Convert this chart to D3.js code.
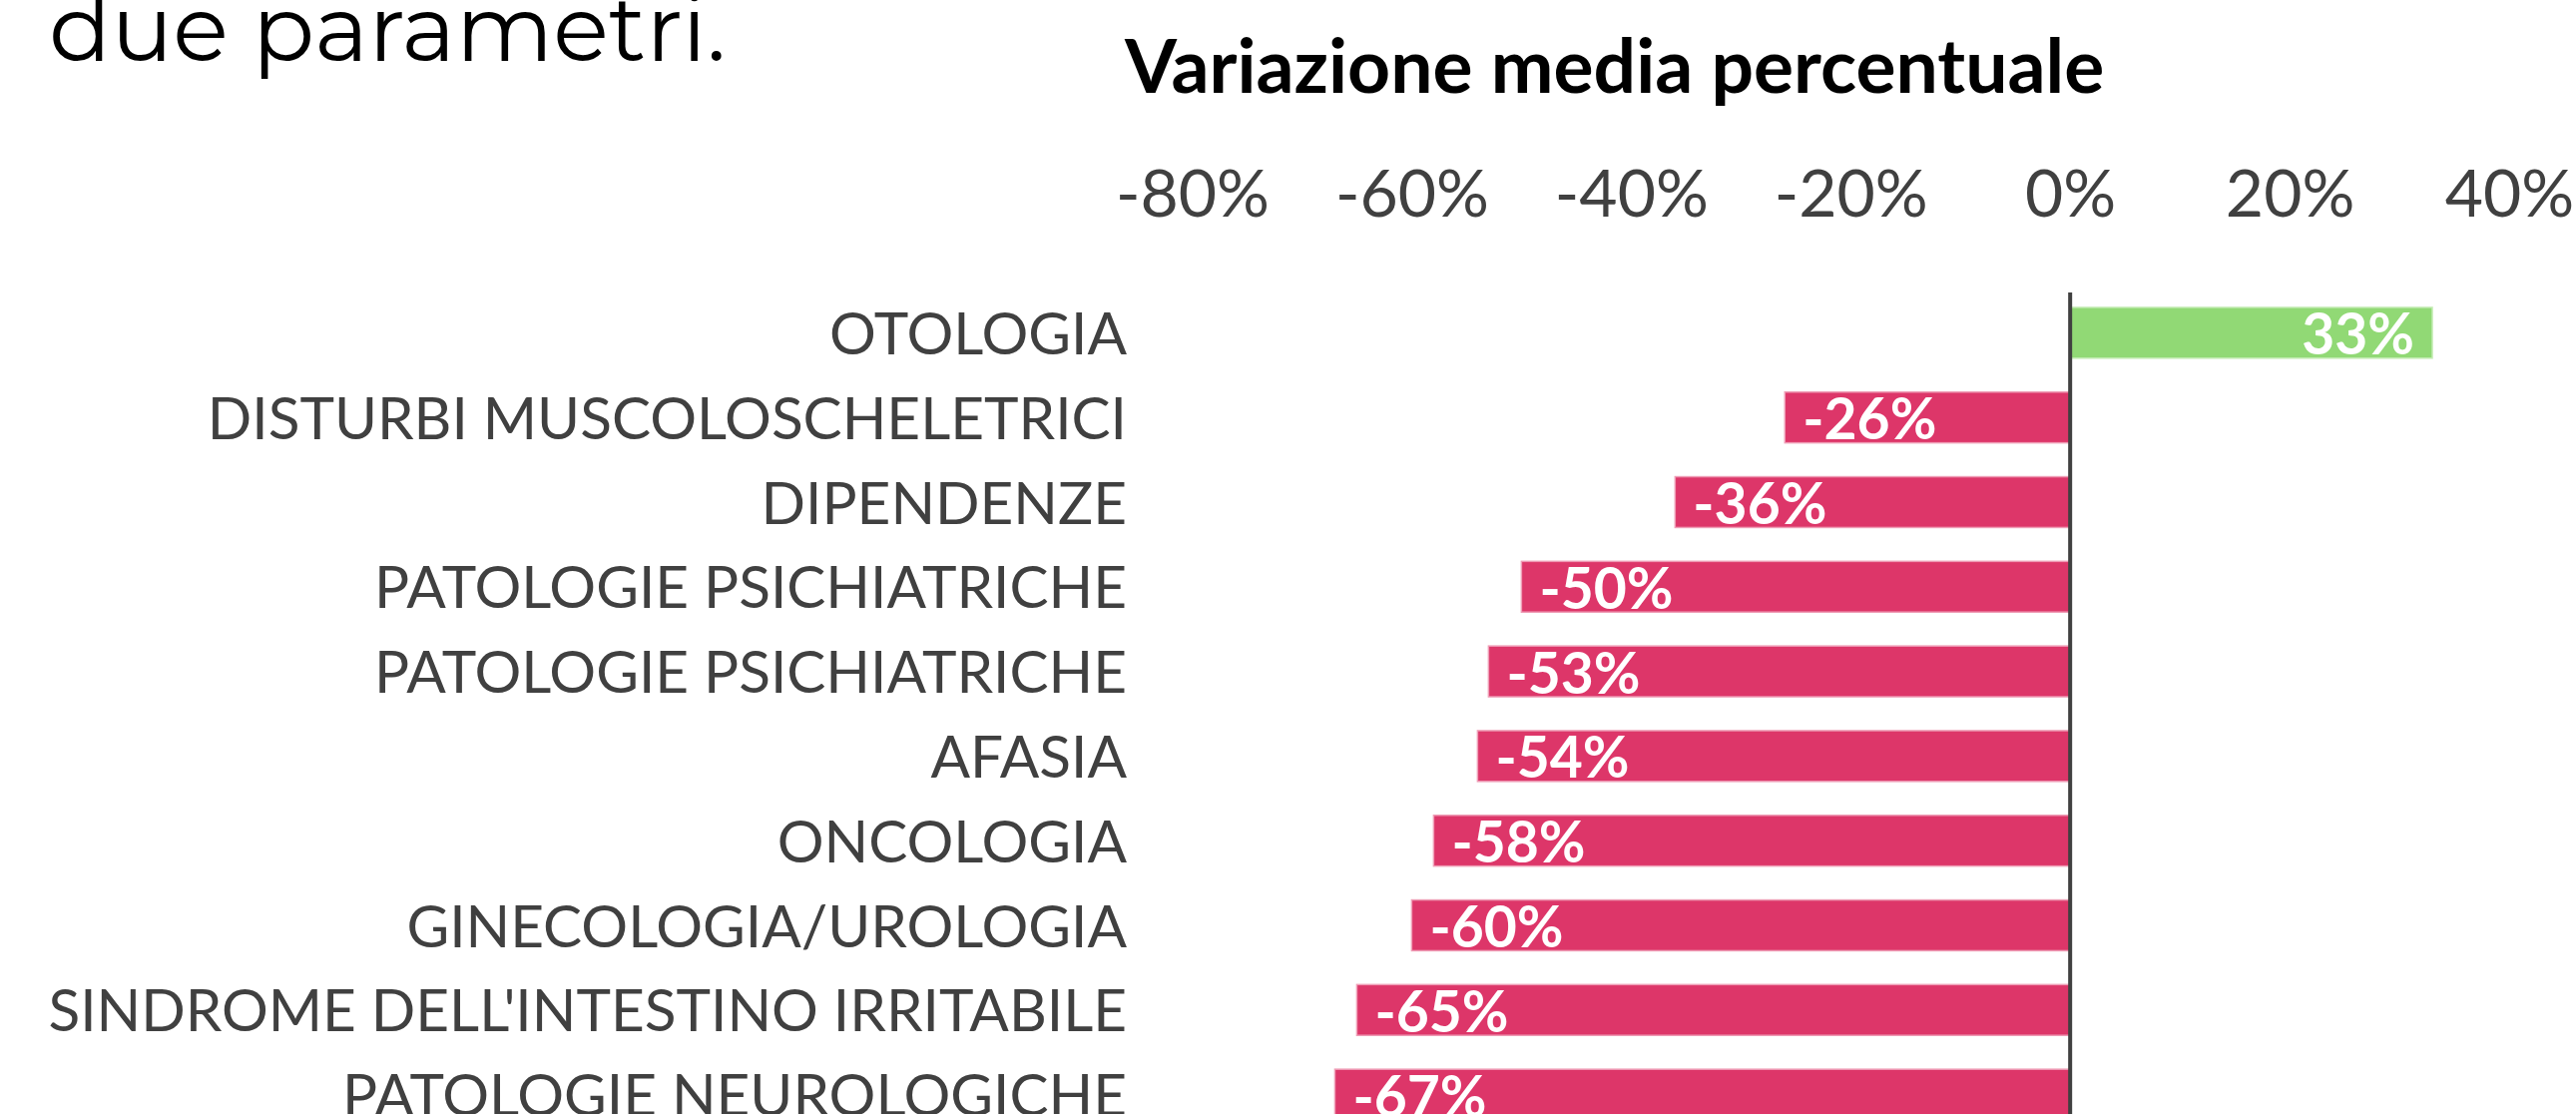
<!DOCTYPE html>
<html>
<head>
<meta charset="utf-8">
<script src="https://cdn.jsdelivr.net/npm/d3@7"></script>
<style>
  body { margin: 0; background: #ffffff; overflow: hidden; }
  svg { display: block; }
</style>
</head>
<body>
<svg id="visualisation"></svg>
<script>
// categories top to bottom and their mean percentage change
var categories = [
    'OTOLOGIA',
    'DISTURBI MUSCOLOSCHELETRICI',
    'DIPENDENZE',
    'PATOLOGIE PSICHIATRICHE',
    'PATOLOGIE PSICHIATRICHE ',
    'AFASIA',
    'ONCOLOGIA',
    'GINECOLOGIA/UROLOGIA',
    "SINDROME DELL'INTESTINO IRRITABILE",
    'PATOLOGIE NEUROLOGICHE'
];
var values = [33, -26, -36, -50, -53, -54, -58, -60, -65, -67];
var tickValues = [-80, -60, -40, -20, 0, 20, 40];
var axisTitle = 'Variazione media percentuale';
var introText = 'due parametri.';

var WIDTH = 2581,
    HEIGHT = 1116;

var vis = d3.select('#visualisation')
    .attr('width', WIDTH)
    .attr('height', HEIGHT);

vis.append('rect')
    .attr('width', WIDTH)
    .attr('height', HEIGHT)
    .attr('fill', '#ffffff');

var labelFont = "Lato, 'Open Sans', sans-serif";

var xRange = d3.scaleLinear()
    .domain([-80, 40])
    .range([1194.5, 2514]);

var yRange = d3.scaleBand()
    .domain(categories)
    .range([291, 1139])
    .paddingInner(0.4)
    .paddingOuter(0.2);

// leftover text of the slide above the chart
vis.append('text')
    .attr('x', 49)
    .attr('y', 61)
    .attr('font-family', "Montserrat, Lato, sans-serif")
    .attr('font-size', 92)
    .attr('font-weight', 400)
    .attr('fill', '#000000')
    .text(introText);

vis.append('text')
    .attr('x', 1127)
    .attr('y', 93)
    .attr('font-family', labelFont)
    .attr('font-size', 75)
    .attr('font-weight', 700)
    .attr('fill', '#000000')
    .text(axisTitle);

var xAxis = d3.axisTop(xRange)
    .tickValues(tickValues)
    .tickSize(0)
    .tickPadding(0)
    .tickFormat(function(d){ return d + '%'; });

var gx = vis.append('g')
    .attr('class', 'x axis')
    .attr('transform', 'translate(0,217)')
    .call(xAxis);
gx.select('.domain').remove();
gx.selectAll('text')
    .attr('font-family', labelFont)
    .attr('font-size', 66)
    .attr('fill', '#404040');

var yAxis = d3.axisLeft(yRange)
    .tickSize(0)
    .tickPadding(0);

var gy = vis.append('g')
    .attr('class', 'y axis')
    .attr('transform', 'translate(1129,0)')
    .call(yAxis);
gy.select('.domain').remove();
gy.selectAll('text')
    .attr('font-family', labelFont)
    .attr('font-size', 58.5)
    .attr('fill', '#404040')
    .attr('dy', '0.37em');

var data = [];
for (let i = 0; i < categories.length; i++){
    data.push({c: categories[i], v: values[i]});
}

vis.append('g')
    .selectAll('rect')
    .data(data)
    .enter()
    .append('rect')
    .attr('x', function(d){ return xRange(Math.min(0, d.v)); })
    .attr('y', function(d){ return yRange(d.c); })
    .attr('width', function(d){ return Math.abs(xRange(d.v) - xRange(0)); })
    .attr('height', yRange.bandwidth())
    .attr('fill', function(d){ return d.v >= 0 ? '#91d975' : '#dd3669'; })
    .attr('stroke', function(d){ return d.v >= 0 ? '#c4ecb4' : '#ef9db6'; })
    .attr('stroke-width', 1.5);

// value labels, inside the bar at its far end for positives, at the start for negatives
vis.append('g')
    .selectAll('text')
    .data(data)
    .enter()
    .append('text')
    .attr('x', function(d){ return d.v >= 0 ? xRange(d.v) - 18 : xRange(d.v) + 18; })
    .attr('y', function(d){ return yRange(d.c) + yRange.bandwidth() / 2 + 22; })
    .attr('text-anchor', function(d){ return d.v >= 0 ? 'end' : 'start'; })
    .attr('font-family', labelFont)
    .attr('font-size', 57)
    .attr('font-weight', 700)
    .attr('fill', '#ffffff')
    .text(function(d){ return d.v + '%'; });

// zero line
vis.append('line')
    .attr('x1', xRange(0))
    .attr('x2', xRange(0))
    .attr('y1', yRange.range()[0] + 2)
    .attr('y2', yRange.range()[1])
    .attr('stroke', '#404040')
    .attr('stroke-width', 4);
</script>
</body>
</html>
